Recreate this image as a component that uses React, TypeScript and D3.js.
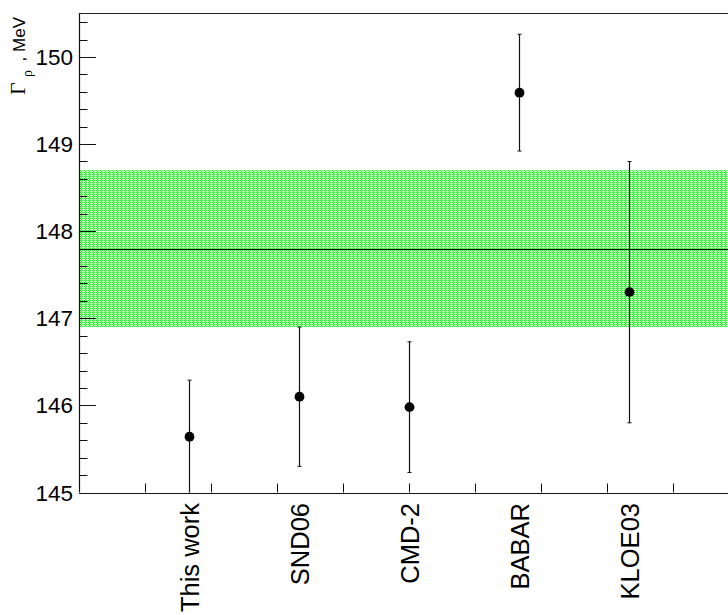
import React from "react";
import * as d3 from "d3";

const labels = ["This work", "SND06", "CMD-2", "BABAR", "KLOE03"];
const positions = [1, 2, 3, 4, 5];
const values = [145.64, 146.1, 145.98, 149.59, 147.3];
const errors = [0.65, 0.8, 0.75, 0.67, 1.5];
const average = 147.8;
const averageError = 0.9;
const yMajorTicks = [145, 146, 147, 148, 149, 150];
const xDomain = [0, 6];
const yDomain = [145, 150.5];

const W = 728;
const H = 615;

function Title() {
  const font = "'Liberation Sans', Arial, Helvetica, sans-serif";
  const serif = "'Liberation Serif', 'Times New Roman', serif";
  return (
    <g>
      <text transform="translate(25,95) rotate(-90)" fontFamily={serif} fontSize={22} fill="#000">
        Γ
      </text>
      <text transform="translate(32,77) rotate(-90)" fontFamily={serif} fontSize={14} fill="#000">
        ρ
      </text>
      <text transform="translate(25,17) rotate(-90)" textAnchor="end" fontFamily={font} fontSize={17} fill="#000">
        {", MeV"}
      </text>
    </g>
  );
}

export default function App() {
  const x = d3.scaleLinear().domain(xDomain).range([79, 739]);
  const y = d3.scaleLinear().domain(yDomain).range([492.5, 13.4]);
  const x0 = x(xDomain[0]);
  const x1 = x(xDomain[1]);
  const yb = y(yDomain[0]);
  const yt = y(yDomain[1]);

  const yMinor = d3.range(145, 150.5001, 0.2).map((v) => +v.toFixed(2));
  const xTicks = d3.range(0.6, 6.0001, 0.6).map((v) => +v.toFixed(2));

  const font = "'Liberation Sans', Arial, Helvetica, sans-serif";

  return (
    <svg width={W} height={H} style={{ position: "absolute", left: 0, top: 0, background: "#fff" }}>
      <defs>
        <clipPath id="frame">
          <rect x={x0} y={yt} width={x1 - x0} height={yb - yt} />
        </clipPath>
        <pattern id="band" width={4} height={2} patternUnits="userSpaceOnUse">
          <rect x={0} y={0} width={4} height={2} fill="#b4ffb4" />
          <rect x={0} y={0} width={1} height={1} fill="#2cf02c" />
          <rect x={2} y={0} width={1} height={1} fill="#2cf02c" />
          <rect x={1} y={1} width={1} height={1} fill="#2cf02c" />
          <rect x={3} y={0} width={1} height={2} fill="#e0ffe0" />
        </pattern>
      </defs>
      <rect x={0} y={0} width={W} height={H} fill="#fff" />
      <g clipPath="url(#frame)">
        <rect
          x={x0}
          y={y(average + averageError)}
          width={x1 - x0}
          height={y(average - averageError) - y(average + averageError)}
          fill="url(#band)"
        />
        <line x1={x0} x2={x1} y1={Math.round(y(148)) + 0.5} y2={Math.round(y(148)) + 0.5} stroke="#fff" strokeOpacity={0.85} />
        <line x1={x0} x2={x1} y1={Math.round(y(average)) + 0.5} y2={Math.round(y(average)) + 0.5} stroke="#111" />
        {positions.map((p, i) => {
          const cx = Math.round(x(p)) + 0.5;
          const lo = y(values[i] - errors[i]);
          const hi = y(values[i] + errors[i]);
          return (
            <g key={labels[i]}>
              <line x1={cx} x2={cx} y1={lo} y2={hi} stroke="#111" strokeWidth={1.2} />
              <line x1={cx - 2} x2={cx + 2} y1={lo} y2={lo} stroke="#111" />
              <line x1={cx - 2} x2={cx + 2} y1={hi} y2={hi} stroke="#111" />
              <circle cx={cx} cy={y(values[i])} r={4.9} fill="#000" />
            </g>
          );
        })}
      </g>
      <line x1={x0} x2={x1} y1={Math.round(yt) + 0.5} y2={Math.round(yt) + 0.5} stroke="#222" />
      <line x1={x0} x2={x1} y1={Math.round(yb) + 0.5} y2={Math.round(yb) + 0.5} stroke="#111" strokeWidth={1.2} />
      <line x1={x0 + 0.5} x2={x0 + 0.5} y1={yt} y2={yb} stroke="#111" strokeWidth={1.2} />
      {yMinor.map((v) => {
        const major = yMajorTicks.some((m) => Math.abs(m - v) < 1e-6);
        const yy = Math.round(y(v)) + 0.5;
        return <line key={"ym" + v} x1={x0} x2={x0 + (major ? 17 : 8.5)} y1={yy} y2={yy} stroke="#111" />;
      })}
      {yMajorTicks.map((v) => (
        <text key={"yl" + v} x={73} y={y(v)} dy="0.36em" textAnchor="end" fontFamily={font} fontSize={22.5} fill="#000">
          {v}
        </text>
      ))}
      {xTicks.map((v) => {
        const xx = Math.round(x(v)) + 0.5;
        return <line key={"xt" + v} x1={xx} x2={xx} y1={yb} y2={yb - 9} stroke="#111" />;
      })}
      {positions.map((p, i) => (
        <text
          key={"xl" + labels[i]}
          transform={`translate(${x(p)},503) rotate(-90)`}
          dy="0.38em"
          textAnchor="end"
          fontFamily={font}
          fontSize={25.5}
          fill="#000"
        >
          {labels[i]}
        </text>
      ))}
      <Title />
    </svg>
  );
}
